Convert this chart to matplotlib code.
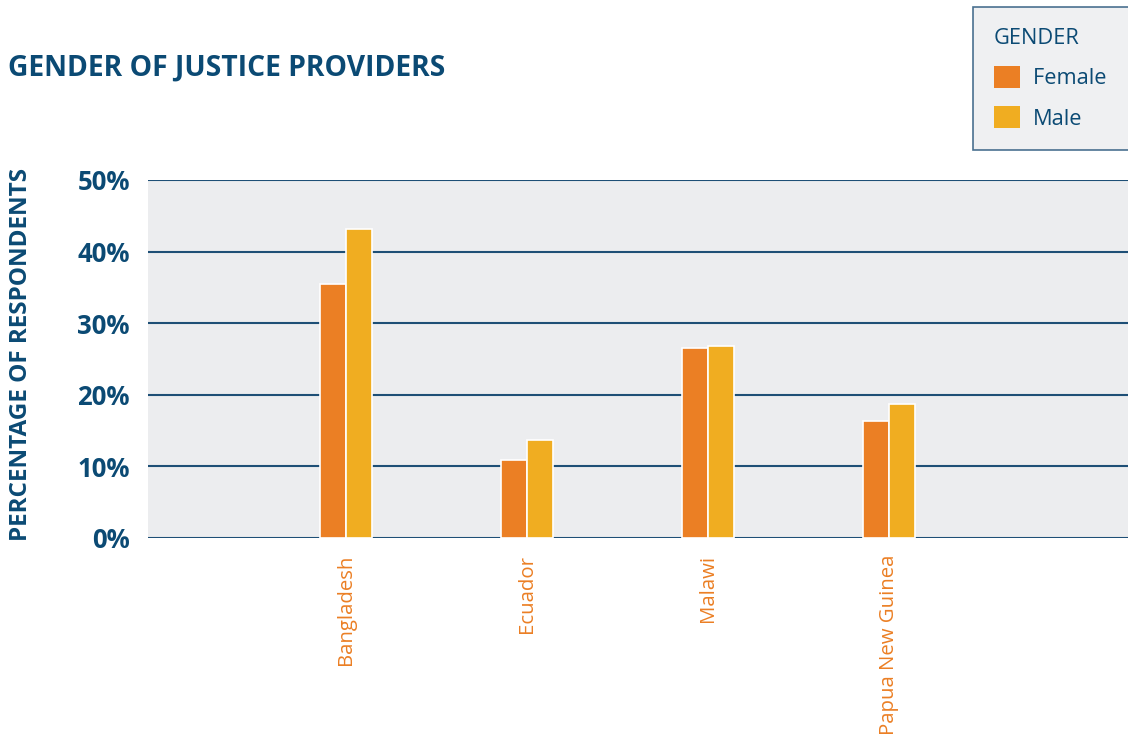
import numpy as np
import matplotlib.pyplot as plt
from matplotlib.patches import Patch

# data
countries = ['Bangladesh', 'Ecuador', 'Malawi', 'Papua New Guinea']
female = [35.5, 10.9, 26.5, 16.3]
male = [43.2, 13.7, 26.8, 18.7]
yticks = [0, 10, 20, 30, 40, 50]

navy = '#0B4A74'
grid_col = '#1E4F76'
orange = '#EB7F24'
yellow = '#F0AD21'
bg = '#ECEDEF'

plt.rcParams['font.family'] = ['Open Sans', 'DejaVu Sans']

fig = plt.figure(figsize=(11.28, 7.34), dpi=100)
ax = fig.add_axes([148/1128, 1-538/734, 980/1128, 358/734])
ax.set_facecolor(bg)

x = np.arange(len(countries))
w = 0.144
ax.bar(x - w/2, female, w, color=orange, edgecolor='white', linewidth=1.2, zorder=3)
ax.bar(x + w/2, male, w, color=yellow, edgecolor='white', linewidth=1.2, zorder=3)

ax.set_xlim(-1.094, 4.32)
ax.set_ylim(0, 50)
ax.set_yticks(yticks)
ax.set_yticklabels([f'{t}%' for t in yticks], fontsize=18.5, fontweight='bold', color=navy)
for t in yticks:
    ax.axhline(t, color=grid_col, lw=1.5, zorder=1)
ax.tick_params(axis='y', length=0, pad=13)
ax.set_xticks(x)
ax.set_xticklabels(countries, rotation=90, fontsize=14.7, color=orange, va='top')
ax.tick_params(axis='x', length=0, pad=12)
for s in ax.spines.values():
    s.set_visible(False)

ax.set_ylabel('PERCENTAGE OF RESPONDENTS', fontsize=17.5, fontweight='bold', color=navy)
ax.yaxis.set_label_coords(-0.117, 0.514)

fig.text(8/1128, 1-68/734, 'GENDER OF JUSTICE PROVIDERS', fontsize=20.3, fontweight='bold',
         color=navy, va='center', ha='left')

handles = [Patch(facecolor=orange), Patch(facecolor=yellow)]
leg = fig.legend(handles, ['Female    ', 'Male'], title='GENDER', loc='upper left',
                 bbox_to_anchor=(973/1128, 1-7/734), frameon=True, fancybox=False,
                 fontsize=15.7, title_fontsize=15.7, alignment='left',
                 handlelength=1.19, handleheight=1.19, handletextpad=0.6,
                 borderpad=0.95, labelspacing=0.78, borderaxespad=0)
leg.get_frame().set_facecolor(bg)
leg.get_frame().set_edgecolor(grid_col)
leg.get_frame().set_linewidth(1.2)
leg.get_title().set_color(navy)
for t in leg.get_texts():
    t.set_color(navy)

fig.savefig('out.png', dpi=100)
